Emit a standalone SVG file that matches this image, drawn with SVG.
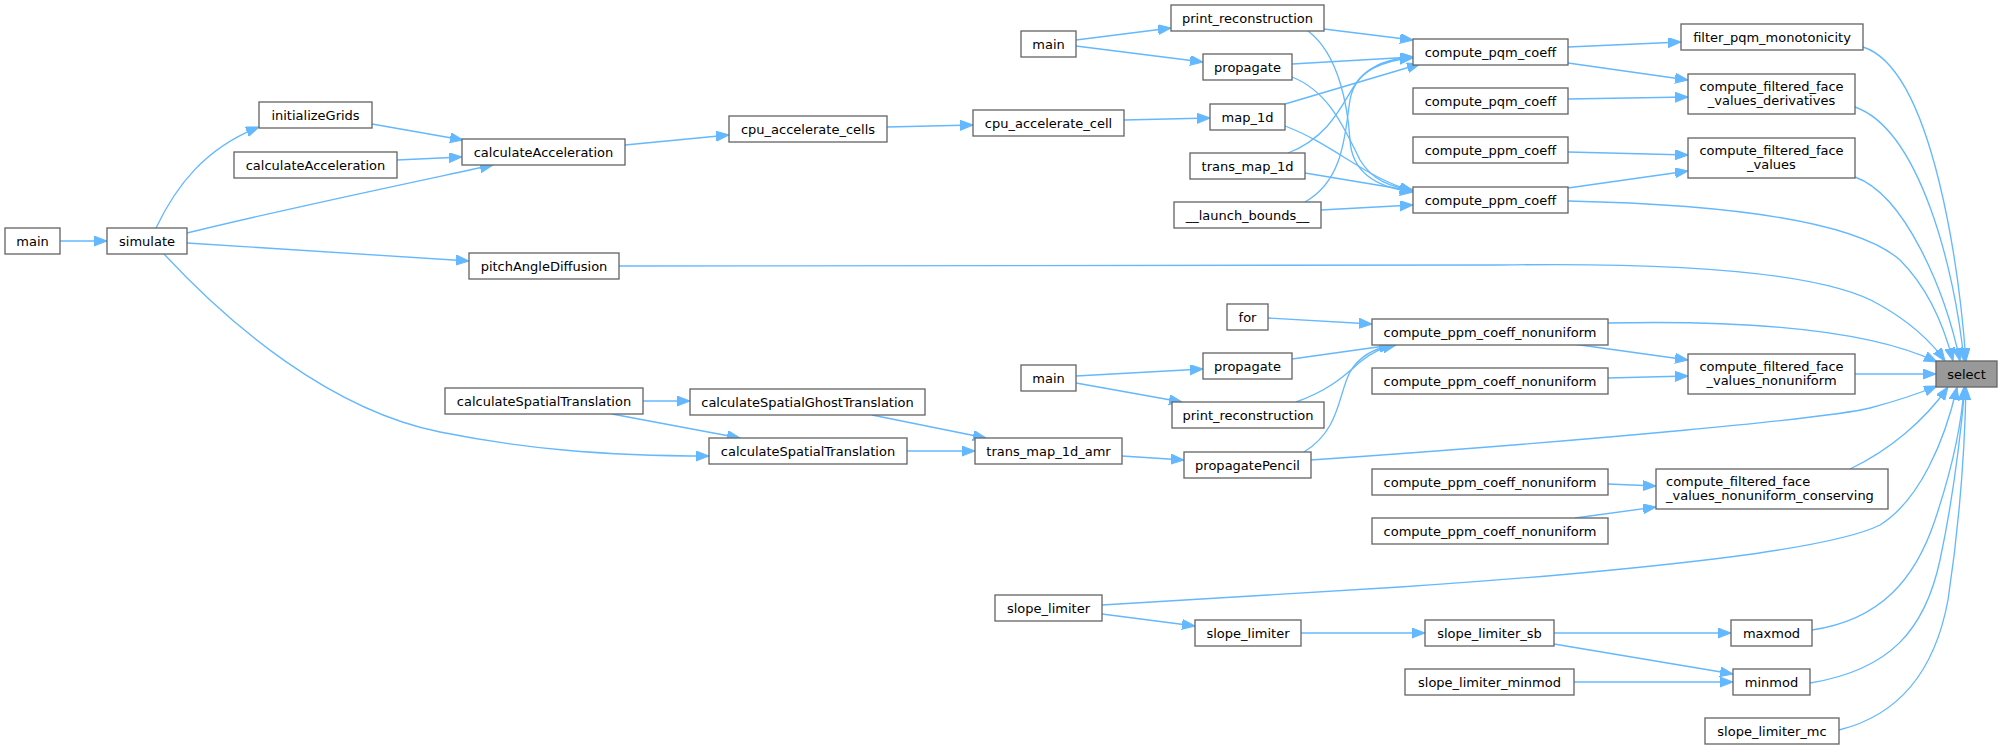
<svg xmlns="http://www.w3.org/2000/svg" width="2003" height="749" viewBox="0 0 2003 749">
<defs>
<marker id="ah" markerUnits="userSpaceOnUse" markerWidth="14" markerHeight="11" refX="13" refY="5" orient="auto" viewBox="0 0 14 11">
<path d="M0,0 L13,5 L0,10 z" fill="#63b8ff" stroke="#63b8ff" stroke-width="1"/>
</marker>
<style>
.n rect{fill:#ffffff;stroke:#666666;stroke-width:1.33}
.sel rect{fill:#999999;stroke:#666666;stroke-width:1.33}
text{font-family:"DejaVu Sans","Liberation Sans",sans-serif;font-size:13px;fill:#000000;text-anchor:middle}
.e path{fill:none;stroke:#63b8ff;stroke-width:1.33;marker-end:url(#ah)}
</style>
</defs>
<rect x="0" y="0" width="2003" height="749" fill="#ffffff"/>
<g id="connectors" class="e">
<path d="M60,241 L107,241"/>
<path d="M156,228 C176,186 205,148 259,127"/>
<path d="M187,233 C280,210 400,185 493,165"/>
<path d="M187,243 C300,250 400,256 469,261"/>
<path d="M164,254 C230,325 330,410 440,432 C520,448 600,456 709,456"/>
<path d="M372,124 L463,140"/>
<path d="M397,160 L462,157"/>
<path d="M625,145 L729,135"/>
<path d="M887,127 L973,125"/>
<path d="M1124,120 L1210,118"/>
<path d="M1076,40 L1171,28"/>
<path d="M1076,46 L1203,62"/>
<path d="M1324,29 L1413,40"/>
<path d="M1308,31 C1340,55 1348,110 1350,140 C1352,175 1380,188 1413,192"/>
<path d="M1292,64 L1413,57"/>
<path d="M1292,77 C1330,92 1345,130 1360,160 C1372,180 1390,187 1413,190"/>
<path d="M1285,104 L1420,64"/>
<path d="M1285,126 C1335,145 1365,178 1413,191"/>
<path d="M1288,153 C1335,135 1345,95 1360,78 C1375,62 1395,58 1413,57"/>
<path d="M1305,173 L1413,191"/>
<path d="M1305,202 C1345,180 1345,130 1350,100 C1355,70 1385,60 1413,58"/>
<path d="M1321,210 L1413,205"/>
<path d="M1568,47 L1681,42"/>
<path d="M1568,63 L1688,80"/>
<path d="M1568,99 L1688,97"/>
<path d="M1568,152 L1688,155"/>
<path d="M1568,188 L1688,171"/>
<path d="M1568,201 C1750,205 1860,225 1900,260 C1930,290 1945,330 1953,361"/>
<path d="M1863,47 C1935,70 1960,280 1966,361"/>
<path d="M1855,107 C1920,130 1955,270 1964,361"/>
<path d="M1855,177 C1905,195 1945,290 1960,361"/>
<path d="M619,266 L1500,265 C1700,262 1830,275 1880,305 C1910,322 1930,340 1945,361"/>
<path d="M1608,323 C1750,320 1870,330 1937,362"/>
<path d="M1573,344 L1688,360"/>
<path d="M1608,378 L1688,376"/>
<path d="M1855,374 L1936,374"/>
<path d="M1311,460 C1600,440 1830,418 1870,408 C1900,400 1920,393 1937,386"/>
<path d="M1850,469 C1890,450 1925,420 1948,387"/>
<path d="M1102,605 L1400,587 C1650,570 1830,550 1880,525 C1920,500 1945,440 1957,387"/>
<path d="M1812,630 C1880,620 1915,580 1935,520 C1955,460 1962,420 1964,387"/>
<path d="M1810,683 C1890,670 1925,630 1940,560 C1955,490 1962,420 1965,387"/>
<path d="M1839,730 C1900,715 1935,670 1948,600 C1960,520 1965,440 1966,387"/>
<path d="M1268,318 L1372,324"/>
<path d="M1292,359 L1392,345"/>
<path d="M1296,402 C1330,390 1345,375 1360,362 C1372,352 1382,348 1396,345"/>
<path d="M1304,452 C1340,430 1338,395 1350,372 C1360,355 1375,348 1393,345"/>
<path d="M1076,376 L1203,369"/>
<path d="M1076,383 L1182,402"/>
<path d="M1608,484 L1656,486"/>
<path d="M1575,518 L1656,507"/>
<path d="M643,401 L690,401"/>
<path d="M612,414 L740,438"/>
<path d="M872,415 L986,438"/>
<path d="M907,451 L975,451"/>
<path d="M1122,456 L1184,460"/>
<path d="M1102,614 L1195,626"/>
<path d="M1301,633 L1425,633"/>
<path d="M1554,633 L1731,633"/>
<path d="M1554,644 L1733,674"/>
<path d="M1574,682 L1733,682"/>
</g>
<g id="n_main0" class="n"><rect x="5" y="228" width="55" height="26"/><text x="32.5" y="245.5">main</text></g>
<g id="n_simulate" class="n"><rect x="107" y="228" width="80" height="26"/><text x="147" y="245.5">simulate</text></g>
<g id="n_initializeGrids" class="n"><rect x="259" y="102" width="113" height="26"/><text x="315.5" y="119.5">initializeGrids</text></g>
<g id="n_calculateAcceleration_l" class="n"><rect x="234" y="152" width="163" height="26"/><text x="315.5" y="169.5">calculateAcceleration</text></g>
<g id="n_calculateAcceleration_r" class="n"><rect x="462" y="139" width="163" height="26"/><text x="543.5" y="156.5">calculateAcceleration</text></g>
<g id="n_pitchAngleDiffusion" class="n"><rect x="469" y="253" width="150" height="26"/><text x="544" y="270.5">pitchAngleDiffusion</text></g>
<g id="n_calculateSpatialTranslation_l" class="n"><rect x="445" y="388" width="198" height="26"/><text x="544" y="405.5">calculateSpatialTranslation</text></g>
<g id="n_cpu_accelerate_cells" class="n"><rect x="729" y="116" width="158" height="26"/><text x="808" y="133.5">cpu_accelerate_cells</text></g>
<g id="n_calculateSpatialGhostTranslation" class="n"><rect x="690" y="389" width="235" height="26"/><text x="807.5" y="406.5">calculateSpatialGhostTranslation</text></g>
<g id="n_calculateSpatialTranslation_r" class="n"><rect x="709" y="438" width="198" height="26"/><text x="808" y="455.5">calculateSpatialTranslation</text></g>
<g id="n_cpu_accelerate_cell" class="n"><rect x="973" y="110" width="151" height="26"/><text x="1048.5" y="127.5">cpu_accelerate_cell</text></g>
<g id="n_main2" class="n"><rect x="1021" y="31" width="55" height="26"/><text x="1048.5" y="48.5">main</text></g>
<g id="n_main3" class="n"><rect x="1021" y="365" width="55" height="26"/><text x="1048.5" y="382.5">main</text></g>
<g id="n_trans_map_1d_amr" class="n"><rect x="975" y="438" width="147" height="26"/><text x="1048.5" y="455.5">trans_map_1d_amr</text></g>
<g id="n_slope_limiter1" class="n"><rect x="995" y="595" width="107" height="26"/><text x="1048.5" y="612.5">slope_limiter</text></g>
<g id="n_print_reconstruction1" class="n"><rect x="1171" y="5" width="153" height="26"/><text x="1247.5" y="22.5">print_reconstruction</text></g>
<g id="n_propagate1" class="n"><rect x="1203" y="54" width="89" height="26"/><text x="1247.5" y="71.5">propagate</text></g>
<g id="n_map_1d" class="n"><rect x="1210" y="104" width="75" height="26"/><text x="1247.5" y="121.5">map_1d</text></g>
<g id="n_trans_map_1d" class="n"><rect x="1190" y="153" width="115" height="26"/><text x="1247.5" y="170.5">trans_map_1d</text></g>
<g id="n_launch_bounds" class="n"><rect x="1174" y="202" width="147" height="26"/><text x="1247.5" y="219.5">__launch_bounds__</text></g>
<g id="n_for" class="n"><rect x="1227" y="304" width="41" height="26"/><text x="1247.5" y="321.5">for</text></g>
<g id="n_propagate2" class="n"><rect x="1203" y="353" width="89" height="26"/><text x="1247.5" y="370.5">propagate</text></g>
<g id="n_print_reconstruction2" class="n"><rect x="1172" y="402" width="152" height="26"/><text x="1248" y="419.5">print_reconstruction</text></g>
<g id="n_propagatePencil" class="n"><rect x="1184" y="452" width="127" height="26"/><text x="1247.5" y="469.5">propagatePencil</text></g>
<g id="n_slope_limiter2" class="n"><rect x="1195" y="620" width="106" height="26"/><text x="1248" y="637.5">slope_limiter</text></g>
<g id="n_compute_pqm_coeff1" class="n"><rect x="1413" y="39" width="155" height="26"/><text x="1490.5" y="56.5">compute_pqm_coeff</text></g>
<g id="n_compute_pqm_coeff2" class="n"><rect x="1413" y="88" width="155" height="26"/><text x="1490.5" y="105.5">compute_pqm_coeff</text></g>
<g id="n_compute_ppm_coeff1" class="n"><rect x="1413" y="137" width="155" height="26"/><text x="1490.5" y="154.5">compute_ppm_coeff</text></g>
<g id="n_compute_ppm_coeff2" class="n"><rect x="1413" y="187" width="155" height="26"/><text x="1490.5" y="204.5">compute_ppm_coeff</text></g>
<g id="n_compute_ppm_coeff_nonuniform1" class="n"><rect x="1372" y="319" width="236" height="26"/><text x="1490" y="336.5">compute_ppm_coeff_nonuniform</text></g>
<g id="n_compute_ppm_coeff_nonuniform2" class="n"><rect x="1372" y="368" width="236" height="26"/><text x="1490" y="385.5">compute_ppm_coeff_nonuniform</text></g>
<g id="n_compute_ppm_coeff_nonuniform3" class="n"><rect x="1372" y="469" width="236" height="26"/><text x="1490" y="486.5">compute_ppm_coeff_nonuniform</text></g>
<g id="n_compute_ppm_coeff_nonuniform4" class="n"><rect x="1372" y="518" width="236" height="26"/><text x="1490" y="535.5">compute_ppm_coeff_nonuniform</text></g>
<g id="n_slope_limiter_sb" class="n"><rect x="1425" y="620" width="129" height="26"/><text x="1489.5" y="637.5">slope_limiter_sb</text></g>
<g id="n_slope_limiter_minmod" class="n"><rect x="1405" y="669" width="169" height="26"/><text x="1489.5" y="686.5">slope_limiter_minmod</text></g>
<g id="n_filter_pqm_monotonicity" class="n"><rect x="1681" y="24" width="182" height="26"/><text x="1772" y="41.5">filter_pqm_monotonicity</text></g>
<g id="n_cffv_derivatives" class="n"><rect x="1688" y="74" width="167" height="40"/><text x="1771.5" y="90.5">compute_filtered_face</text><text x="1771.5" y="105">_values_derivatives</text></g>
<g id="n_cffv" class="n"><rect x="1688" y="138" width="167" height="40"/><text x="1771.5" y="154.5">compute_filtered_face</text><text x="1771.5" y="169">_values</text></g>
<g id="n_cffv_nonuniform" class="n"><rect x="1688" y="354" width="167" height="40"/><text x="1771.5" y="370.5">compute_filtered_face</text><text x="1771.5" y="385">_values_nonuniform</text></g>
<g id="n_cffv_nonuniform_conserving" class="n"><rect x="1656" y="469" width="232" height="40"/><text x="1666" y="485.5" style="text-anchor:start">compute_filtered_face</text><text x="1666" y="500" style="text-anchor:start">_values_nonuniform_conserving</text></g>
<g id="n_maxmod" class="n"><rect x="1731" y="620" width="81" height="26"/><text x="1771.5" y="637.5">maxmod</text></g>
<g id="n_minmod" class="n"><rect x="1733" y="669" width="77" height="26"/><text x="1771.5" y="686.5">minmod</text></g>
<g id="n_slope_limiter_mc" class="n"><rect x="1705" y="718" width="134" height="26"/><text x="1772" y="735.5">slope_limiter_mc</text></g>
<g id="n_select" class="sel"><rect x="1936" y="361" width="61" height="26"/><text x="1966.5" y="378.5">select</text></g>
</svg>
